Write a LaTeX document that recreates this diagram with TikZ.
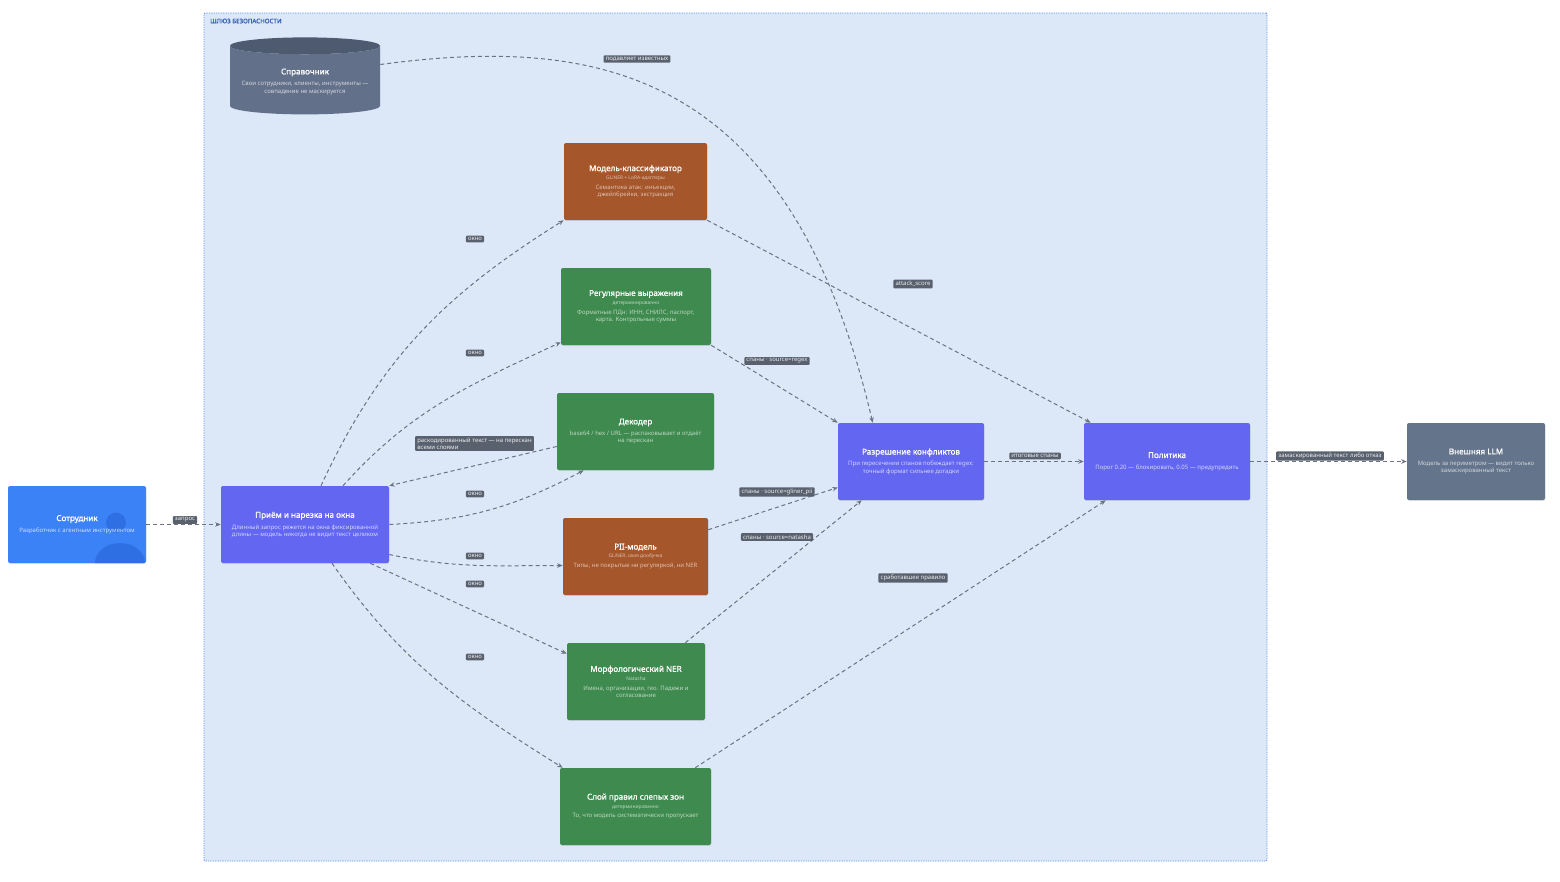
\documentclass[tikz,border=0pt]{standalone}
\usepackage{fontspec}
\setmainfont{Noto Sans}[AutoFakeBold=1.2]
\usetikzlibrary{arrows,arrows.meta,shapes.geometric,positioning,calc,shadows}

\definecolor{gatefill}{HTML}{DCE8F8}
\definecolor{gateline}{HTML}{5B8DEF}
\definecolor{gatetext}{HTML}{2F5DAE}
\definecolor{usercol}{HTML}{3B82F6}
\definecolor{personcol}{HTML}{2E6FE3}
\definecolor{corecol}{HTML}{6366F1}
\definecolor{mlcol}{HTML}{A5562B}
\definecolor{rulecol}{HTML}{3F8B4F}
\definecolor{extcol}{HTML}{64748B}
\definecolor{dbbody}{HTML}{627089}
\definecolor{dbtop}{HTML}{4D5A70}
\definecolor{linkcol}{HTML}{6B7280}
\definecolor{tagcol}{HTML}{5A616E}
\colorlet{dsc}{white}

\newcommand{\btitle}[1]{{\fontsize{8.1}{9.4}\selectfont\bfseries #1\par}}
\newcommand{\bsub}[1]{\vspace{2.5pt}{\fontsize{4.9}{5.9}\selectfont\color{dsc}#1\par}\vspace{-1.5pt}}
\newcommand{\bdesc}[1]{\vspace{4.2pt}{\fontsize{6}{7.2}\selectfont\color{dsc}#1\par}}

\begin{document}
\begin{tikzpicture}[
        ->,>={Stealth[length=5.5pt, width=4.5pt]}, x=1pt, y=1pt, semithick,
        every edge/.append style={link}
    ]

    \tikzstyle{link} = [linkcol, line width=1pt, dash pattern=on 4pt off 3pt]
    \tikzstyle{block} = [rectangle, rounded corners=2pt, minimum height=77pt, inner xsep=6pt, inner ysep=4pt, text=white, align=flush center, drop shadow={opacity=0.2, shadow xshift=0.3pt, shadow yshift=-0.9pt}]
    \tikzstyle{userblock} = [block, fill=usercol, execute at begin node={\colorlet{dsc}{white!75!usercol}}]
    \tikzstyle{coreblock} = [block, fill=corecol, execute at begin node={\colorlet{dsc}{white!72!corecol}}]
    \tikzstyle{mlblock} = [block, fill=mlcol, execute at begin node={\colorlet{dsc}{white!62!mlcol}}]
    \tikzstyle{ruleblock} = [block, fill=rulecol, execute at begin node={\colorlet{dsc}{white!65!rulecol}}]
    \tikzstyle{extblock} = [block, fill=extcol, execute at begin node={\colorlet{dsc}{white!70!extcol}}]
    \tikzstyle{dbblock} = [cylinder, shape border rotate=90, aspect=0.12, minimum width=150pt, minimum height=77pt, text width=134pt, align=flush center, text=white, cylinder uses custom fill, cylinder body fill=dbbody, cylinder end fill=dbtop, execute at begin node={\colorlet{dsc}{white!72!dbbody}}]
    \tikzstyle{tag} = [rectangle, fill=tagcol, text=white!88!tagcol, rounded corners=1pt, inner xsep=2.2pt, inner ysep=1.6pt, font=\fontsize{6}{7.2}\selectfont]
    \tikzstyle{gatebox} = [rectangle, draw=gateline, fill=gatefill, line width=0.8pt, dash pattern=on 1.2pt off 1.2pt, rounded corners=1pt]

    \useasboundingbox (0,0) rectangle (1560,-881);

    \node[gatebox, minimum width=1063pt, minimum height=848pt] (gate) at (735.5,-437) {};
    \node[anchor=north west, text=gatetext, font=\fontsize{6.2}{7.4}\selectfont\bfseries] (gatelbl) at ([xshift=3pt,yshift=-2.5pt]gate.north west) {ШЛЮЗ БЕЗОПАСНОСТИ};

    \node[userblock, text width=126pt, path picture={
            \fill[personcol] ([shift={(39pt,2pt)}]path picture bounding box.center) circle[radius=10pt];
            \fill[personcol] ([shift={(43pt,-38.5pt)}]path picture bounding box.center) ellipse[x radius=25pt, y radius=20pt];
        }] (emp) at (77,-524.5) {\btitle{Сотрудник}\bdesc{Разработчик с агентным инструментом}};
    \node[coreblock, text width=156pt] (intake) at (305,-524.5) {\btitle{Приём и нарезка на окна}\bdesc{Длинный запрос режется на окна фиксированной\\длины — модель никогда не видит текст целиком}};
    \node[dbblock] (ref) at (305,-81.5) {\btitle{Справочник}\bdesc{Свои сотрудники, клиенты, инструменты —\\совпадение не маскируется}};
    \node[mlblock, text width=131pt] (cls) at (635.5,-181.5) {\btitle{Модель-классификатор}\bsub{GLiNER + LoRA-адаптеры}\bdesc{Семантика атак: инъекции,\\джейлбрейки, экстракция}};
    \node[ruleblock, text width=138pt] (rgx) at (636,-306.5) {\btitle{Регулярные выражения}\bsub{детерминированно}\bdesc{Форматные ПДн: ИНН, СНИЛС, паспорт,\\карта. Контрольные суммы}};
    \node[ruleblock, text width=145pt] (dec) at (635.5,-431.5) {\btitle{Декодер}\bdesc{base64 / hex / URL — распаковывает и отдаёт\\на перескан}};
    \node[mlblock, text width=133pt] (pii) at (635.5,-556.5) {\btitle{PII-модель}\bsub{GLiNER, своя дообучка}\bdesc{Типы, не покрытые ни регуляркой, ни NER}};
    \node[ruleblock, text width=126pt] (ner) at (636,-681.5) {\btitle{Морфологический NER}\bsub{Natasha}\bdesc{Имена, организации, гео. Падежи и\\согласование}};
    \node[ruleblock, text width=139pt] (blind) at (635.5,-806.5) {\btitle{Слой правил слепых зон}\bsub{детерминированно}\bdesc{То, что модель систематически пропускает}};
    \node[coreblock, text width=134pt] (resolve) at (911,-461.5) {\btitle{Разрешение конфликтов}\bdesc{При пересечении спанов побеждает regex:\\точный формат сильнее догадки}};
    \node[coreblock, text width=154pt] (policy) at (1167,-461.5) {\btitle{Политика}\bdesc{Порог 0.20 — блокировать, 0.05 — предупредить}};
    \node[extblock, text width=126pt] (llm) at (1476,-461.5) {\btitle{Внешняя LLM}\bdesc{Модель за периметром — видит только\\замаскированный текст}};

    \path
        (emp) edge (intake)
        ([xshift=16pt]intake.north) edge[out=65, in=212] (cls.south west)
        ([xshift=38pt]intake.north) edge[out=48, in=205] ([yshift=3pt]rgx.south west)
        ([yshift=-15pt]dec.west) edge (intake.north east)
        (intake.east) edge[out=3, in=208] ([xshift=27pt]dec.south west)
        ([yshift=-30pt]intake.east) edge[out=-12, in=180] ([yshift=-9pt]pii.west)
        ([xshift=-19pt]intake.south east) edge ([yshift=-11pt]ner.north west)
        ([xshift=27pt]intake.south) edge[out=-55, in=148] ([xshift=3pt]blind.north west)
        (cls.south east) edge ([xshift=7pt]policy.north west)
        (rgx.south east) edge (resolve.north west)
        ([yshift=-12pt]pii.north east) edge ([yshift=-26pt]resolve.west)
        ([xshift=-20pt]ner.north east) edge ([xshift=24pt]resolve.south west)
        ([xshift=-16pt]blind.north east) edge ([xshift=22pt]policy.south west)
        (resolve) edge (policy)
        (policy) edge (llm)
    ;
    \draw[link] ([yshift=17pt]ref.east) .. controls (600,-35) and (790,-70) .. ([xshift=35pt]resolve.north west);

    % подписи связей
    \node[tag] (treq) at (185,-520) {запрос};
    \node[tag] (twin1) at (475,-239) {окно};
    \node[tag] (twin2) at (475,-353) {окно};
    \node[tag] (twin3) at (475,-494) {окно};
    \node[tag] (twin4) at (475,-556) {окно};
    \node[tag] (twin5) at (475,-584) {окно};
    \node[tag] (twin6) at (475,-657) {окно};
    \node[tag, align=left] (tdec) at (474.5,-443.5) {раскодированный текст — на перескан\\всеми слоями};
    \node[tag] (tref) at (637,-59) {подавляет известных};
    \node[tag] (tatk) at (913,-284) {attack\_score};
    \node[tag] (trgx) at (777,-361) {спаны · source=regex};
    \node[tag] (tpii) at (777,-492) {спаны · source=gliner\_pii};
    \node[tag] (tner) at (777,-537) {спаны · source=natasha};
    \node[tag] (trule) at (913,-578) {сработавшее правило};
    \node[tag] (tspan) at (1035,-456) {итоговые спаны};
    \node[tag] (tmask) at (1330,-456) {замаскированный текст либо отказ};

\end{tikzpicture}
\end{document}
